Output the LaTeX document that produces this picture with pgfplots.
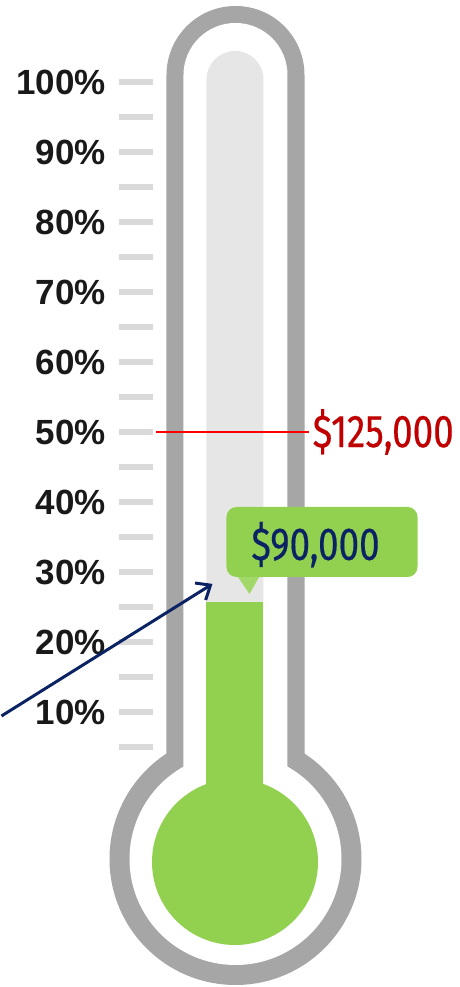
\documentclass[border=0pt]{standalone}
\usepackage{pgfplots}
\pgfplotsset{compat=1.18}
\usepackage{fontspec}
\setmainfont{Liberation Sans}
\newfontfamily\valfont[FakeStretch=0.8, FakeBold=0.4]{Fira Sans}
\usetikzlibrary{arrows.meta}
\definecolor{tgreen}{HTML}{92D050}
\definecolor{tgray}{HTML}{A6A6A6}
\definecolor{tcol}{HTML}{E6E6E6}
\definecolor{tdash}{HTML}{D9D9D9}
\definecolor{tred}{HTML}{C00000}
\definecolor{tnavy}{HTML}{0B2365}
\begin{document}
\begin{tikzpicture}
\begin{axis}[
  scale only axis, width=306pt, height=987pt,
  xmin=152, xmax=458, ymin=-29.2857, ymax=111.7143,
  clip=false,
  axis x line=none, axis y line*=left,
  y axis line style={draw=none},
  ytick={10,20,...,100}, minor ytick={5,15,...,95},
  tick align=outside,
  major tick length=34pt, minor tick length=34pt,
  every tick/.style={draw=tdash, line width=6pt},
  every minor tick/.style={draw=tdash, line width=6pt},
  yticklabel={\pgfmathprintnumber{\tick}\%},
  yticklabel style={font=\fontsize{35}{38}\selectfont\bfseries, text=black!90, xshift=-10pt},
  /pgf/number format/assume math mode=true,
]
% bounding box of the picture
\path (axis cs:0,-29.2857) rectangle (axis cs:458,111.7143);
% thermometer body (outline)
\fill[tgray, rounded corners=69pt] (axis cs:165,-16.857) rectangle (axis cs:303,110.857);
\fill[tgray] (axis cs:234,-11) circle[radius=126pt];
\fill[white, rounded corners=52pt] (axis cs:182,-16.857) rectangle (axis cs:286,108.43);
\fill[white] (axis cs:234,-11) circle[radius=106pt];
% empty column
\fill[tcol, rounded corners=28.5pt] (axis cs:205,-5.43) rectangle (axis cs:262,104.43);
% bulb
\fill[tgreen] (axis cs:233.5,-11.43) circle[radius=83pt];
% filled level (data)
\addplot[fill=tgreen, draw=none] coordinates {(205,-5.43) (262,-5.43) (262,25.7) (205,25.7)} -- cycle;
% target line (data)
\addplot[draw=red, line width=2pt] coordinates {(155,50) (307,50)};
\node[anchor=west, text=tred, inner sep=0pt, font=\valfont\fontsize{46}{48}\selectfont] at (axis cs:311,50) {\$125,000};
% callout
\fill[tgreen!85!white] (axis cs:236,29.4) -- (axis cs:258,29.4) -- (axis cs:248,26.86) -- cycle;
\fill[tgreen, rounded corners=10pt] (axis cs:225,29.29) rectangle (axis cs:416,39.29);
\node[text=tnavy, inner sep=0pt, font=\valfont\fontsize{46}{48}\selectfont] at (axis cs:314,33.9) {\$90,000};
% arrow
\draw[tnavy, line width=3pt, -{Straight Barb[length=12pt,width=20pt,line width=3pt]}] (axis cs:0,9.43) -- (axis cs:211,28.3);
\end{axis}
\end{tikzpicture}
\end{document}
